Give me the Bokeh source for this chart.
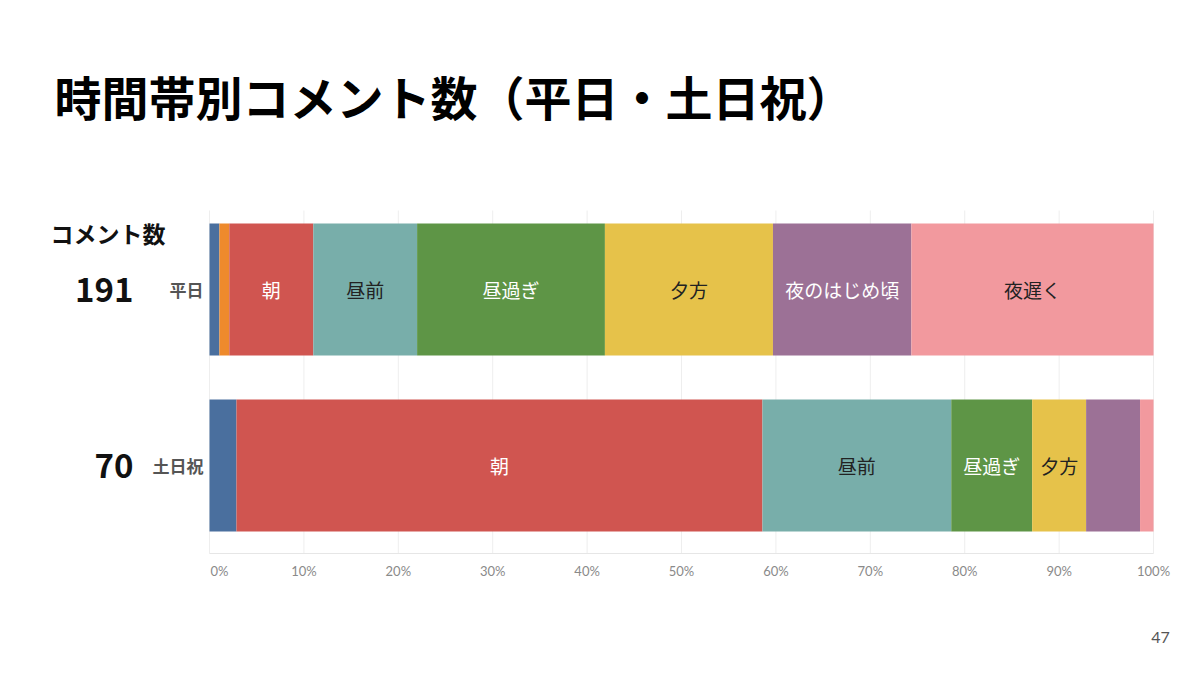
from bokeh.core.properties import value
from bokeh.embed import file_html
from bokeh.models import ColumnDataSource, Label, Range1d
from bokeh.plotting import figure
from bokeh.resources import INLINE

# time slots, left to right
slots = ["深夜", "早朝", "朝", "昼前", "昼過ぎ", "夕方", "夜のはじめ頃", "夜遅く"]
slot_colors = ["#4a6f9e", "#ee8a2c", "#d05550", "#78aeaa",
               "#5e9546", "#e6c24a", "#9c7196", "#f2999e"]
slot_text_colors = ["#ffffff", "#ffffff", "#ffffff", "#222222",
                    "#ffffff", "#222222", "#ffffff", "#222222"]
shown_labels = [False, False, True, True, True, True, True, True]

rows = ["平日", "土日祝"]
row_y = [1, 0]
weekday_counts = [2, 2, 17, 21, 38, 34, 28, 49]
holiday_counts = [2, 0, 39, 14, 6, 4, 4, 1]
row_totals = [sum(weekday_counts), sum(holiday_counts)]

tick_values = list(range(0, 101, 10))
tick_labels = [f"{t}%" for t in tick_values]

JP = "Noto Sans CJK JP"


def plot() -> None:
    # the frame covers the whole canvas so that the side texts are not clipped
    p = figure(width=1184, height=659,
               x_range=Range1d(-22.14, 103.28),
               y_range=Range1d(-1.102, 2.642),
               output_backend="svg", toolbar_location=None,
               min_border=0)
    p.outline_line_color = None
    p.axis.visible = False
    p.grid.visible = False

    # grid lines and baseline
    p.segment(x0=tick_values, x1=tick_values,
              y0=[-0.5] * len(tick_values), y1=[1.449] * len(tick_values),
              line_color="#eeeeee", line_width=1)
    p.segment(x0=[0], x1=[100], y0=[-0.5], y1=[-0.5],
              line_color="#e6e6e6", line_width=1)

    bars = dict(left=[], right=[], y=[], color=[])
    texts = dict(x=[], y=[], text=[], color=[])
    px_per_pct = 9.44
    for y, counts in zip(row_y, [weekday_counts, holiday_counts]):
        total = sum(counts)
        start = 0.0
        for i, c in enumerate(counts):
            pct = c / total * 100
            if c > 0:
                bars["left"].append(start)
                bars["right"].append(start + pct)
                bars["y"].append(y)
                bars["color"].append(slot_colors[i])
                width_px = pct * px_per_pct
                if shown_labels[i] and width_px > len(slots[i]) * 19 + 8:
                    texts["x"].append(start + pct / 2)
                    texts["y"].append(y)
                    texts["text"].append(slots[i])
                    texts["color"].append(slot_text_colors[i])
            start += pct

    p.hbar(left="left", right="right", y="y", height=0.75,
           fill_color="color", line_color=None,
           source=ColumnDataSource(bars))

    p.text(x="x", y="y", text="text", source=ColumnDataSource(texts),
           text_color="color", text_font=value(JP),
           text_font_size="19px", text_align="center",
           text_baseline="middle")

    # x tick labels
    tick_offsets = [10] + [0] * (len(tick_values) - 1)
    p.text(x=tick_values, y=[-0.5] * len(tick_values), text=tick_labels,
           x_offset=tick_offsets, y_offset=9,
           text_font=value("Lato"), text_font_size="13px",
           text_color="#8a8a8a", text_align="center", text_baseline="top")

    # row names
    p.text(x=[0] * len(rows), y=row_y, text=rows, x_offset=-6,
           text_font=value(JP), text_font_size="17px",
           text_font_style="bold", text_color="#555555",
           text_align="right", text_baseline="middle")

    # comment totals per row
    p.text(x=[0] * len(rows), y=row_y, text=[str(t) for t in row_totals],
           x_offset=-76, text_font=value(JP), text_font_size="33px",
           text_font_style="bold", text_color="#111111",
           text_align="right", text_baseline="middle")

    p.add_layout(Label(x=50, y=659 - 232, x_units="screen", y_units="screen",
                       text="コメント数", text_font=JP,
                       text_font_size="23px", text_font_style="bold",
                       text_color="#111111", text_baseline="middle"))

    p.add_layout(Label(x=54, y=659 - 95, x_units="screen", y_units="screen",
                       text="時間帯別コメント数（平日・土日祝）", text_font=JP,
                       text_font_size="47px", text_font_style="bold",
                       text_color="#000000", text_baseline="middle"))

    p.add_layout(Label(x=1160, y=659 - 637, x_units="screen", y_units="screen",
                       text="47", text_font="Lato",
                       text_font_size="16px", text_color="#555555",
                       text_align="center", text_baseline="middle"))

    open("out.html", "w").write(file_html(p, INLINE))


plot()
